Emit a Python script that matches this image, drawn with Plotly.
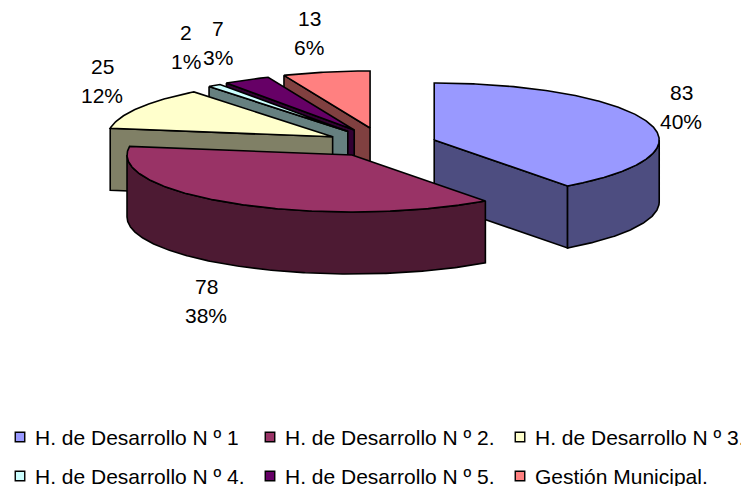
import numpy as np
import plotly.graph_objects as go

# --- data -------------------------------------------------------------
names = ["H. de Desarrollo N º 1", "H. de Desarrollo N º 2.", "H. de Desarrollo N º 3.",
         "H. de Desarrollo N º 4.", "H. de Desarrollo N º 5.", "Gestión Municipal."]
values = [83, 78, 25, 2, 7, 13]
top_colors = ["#9999FF", "#993366", "#FFFFCC", "#CCFFFF", "#660066", "#FF8080"]
wall_colors = ["#4D4D80", "#4D1A33", "#808066", "#668080", "#330033", "#804040"]
label_x = [681, 206, 102, 186, 218, 309]
label_y = [92, 286, 66, 32, 28, 18]
key_x = [20, 270, 520, 20, 270, 520]
key_y = [437, 437, 437, 476, 476, 476]
draw_order = [5, 4, 3, 2, 0, 1]

# --- projection of the exploded 3-D pie, in page pixels ----------------
A, B, DEPTH = 225, 57, 62       # ellipse radii and wall height
CX, CY = 381, 144.75            # pie centre
EXPLODE = 56                    # horizontal explosion
P, Q = 14.35, 2.8               # vertical explosion terms (perspective)
LINE = 1.6
PAGE_MARGIN = 8                 # the page's own body margin
FONT = dict(family="Liberation Sans, Arial, sans-serif", size=21, color="black")

total = sum(values)
edges = np.concatenate([[0], np.cumsum(values)]) / total * 360
fig = go.Figure()


def poly(xs, ys, color):
    xs, ys = list(xs), list(ys)
    fig.add_trace(go.Scatter(
        x=xs + xs[:1], y=ys + ys[:1], mode="lines", fill="toself", fillcolor=color,
        line=dict(color="black", width=LINE), hoverinfo="skip", showlegend=False))


def rim(ax, ay, t0, t1):
    t = np.radians(np.linspace(t0, t1, max(int(abs(t1 - t0)) * 2, 2)))
    return ax + A * np.sin(t), ay - B * np.cos(t)


for i in draw_order:
    t0, t1 = edges[i], edges[i + 1]
    mid = np.radians((t0 + t1) / 2)
    c = np.cos(mid)
    ax = CX + EXPLODE * np.sin(mid)
    ay = CY - P * c - Q * c * c
    # radial walls that face the viewer
    if 180 < t0 < 360:
        x, y = rim(ax, ay, t0, t0)
        poly([x[0], ax, ax, x[0]], [y[0], ay, ay + DEPTH, y[0] + DEPTH], wall_colors[i])
    if 0 < t1 < 180:
        x, y = rim(ax, ay, t1, t1)
        poly([x[0], ax, ax, x[0]], [y[0], ay, ay + DEPTH, y[0] + DEPTH], wall_colors[i])
    # curved outer wall, only its front half
    lo, hi = max(t0, 90), min(t1, 270)
    if lo < hi:
        x, y = rim(ax, ay, lo, hi)
        poly(np.concatenate([x, x[::-1]]), np.concatenate([y, y[::-1] + DEPTH]), wall_colors[i])
    # top face
    x, y = rim(ax, ay, t0, t1)
    poly(np.concatenate([[ax], x]), np.concatenate([[ay], y]), top_colors[i])

annotations = []
# --- key: swatch and name for each slice --------------------------------
for name, col, kx, ky in zip(names, top_colors, key_x, key_y):
    fig.add_trace(go.Scatter(
        x=[kx], y=[ky], mode="markers", name=name, showlegend=False,
        marker=dict(symbol="square", size=9.5, color=col, line=dict(color="black", width=1.4))))
    annotations.append(dict(x=kx + 13, y=ky, xref="x", yref="y", text=name, showarrow=False,
                            font=FONT, xanchor="left", yanchor="middle", height=20))

# --- data labels -------------------------------------------------------
for v, lx, ly in zip(values, label_x, label_y):
    for text, yy in ((str(v), ly), (f"{round(100 * v / total)}%", ly + 29)):
        annotations.append(dict(x=lx, y=yy, xref="x", yref="y", text=text, showarrow=False,
                                font=FONT, xanchor="center", yanchor="middle"))

fig.update_layout(
    width=749 - PAGE_MARGIN, height=487 - PAGE_MARGIN,
    margin=dict(l=0, r=0, t=0, b=0, autoexpand=False),
    paper_bgcolor="white", plot_bgcolor="white", font=FONT,
    xaxis=dict(range=[PAGE_MARGIN, 749], visible=False, fixedrange=True),
    yaxis=dict(range=[487, PAGE_MARGIN], visible=False, fixedrange=True),
    showlegend=False, annotations=annotations,
)
fig.write_html("out.html", config=dict(displayModeBar=False))
